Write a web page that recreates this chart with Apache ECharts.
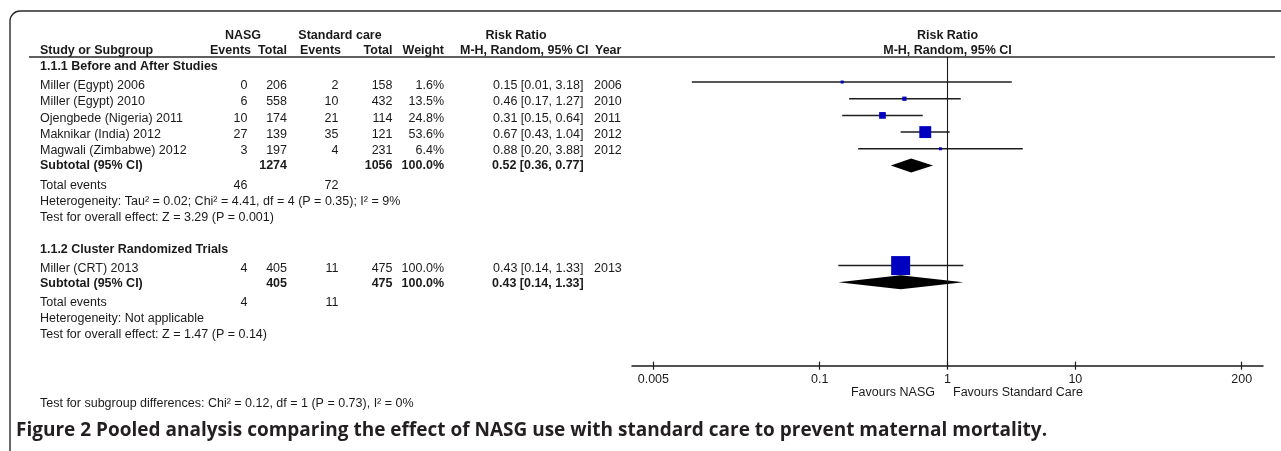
<!DOCTYPE html>
<html>
<head>
<meta charset="utf-8">
<script src="https://cdn.jsdelivr.net/npm/echarts@6/dist/echarts.min.js"></script>
<style>
html,body{margin:0;padding:0;background:#fff;}
#chart{width:1281px;height:451px;}
</style>
</head>
<body>
<div id="chart"></div>
<script>
// ---------- data ----------
const group1Title = '1.1.1 Before and After Studies';
const group1Studies = ['Miller (Egypt) 2006','Miller (Egypt) 2010','Ojengbede (Nigeria) 2011','Maknikar (India) 2012','Magwali (Zimbabwe) 2012'];
const group1NasgEvents = [0, 6, 10, 27, 3];
const group1NasgTotal = [206, 558, 174, 139, 197];
const group1StdEvents = [2, 10, 21, 35, 4];
const group1StdTotal = [158, 432, 114, 121, 231];
const group1Weight = [1.6, 13.5, 24.8, 53.6, 6.4];
const group1RR = [0.15, 0.46, 0.31, 0.67, 0.88];
const group1Lo = [0.01, 0.17, 0.15, 0.43, 0.20];
const group1Hi = [3.18, 1.27, 0.64, 1.04, 3.88];
const group1Year = [2006, 2010, 2011, 2012, 2012];
const group1Subtotal = {nasgTotal:1274, stdTotal:1056, weight:100.0, rr:0.52, lo:0.36, hi:0.77, nasgEvents:46, stdEvents:72};
const group1Het = 'Heterogeneity: Tau² = 0.02; Chi² = 4.41, df = 4 (P = 0.35); I² = 9%';
const group1Test = 'Test for overall effect: Z = 3.29 (P = 0.001)';

const group2Title = '1.1.2 Cluster Randomized Trials';
const group2Studies = ['Miller (CRT) 2013'];
const group2NasgEvents = [4];
const group2NasgTotal = [405];
const group2StdEvents = [11];
const group2StdTotal = [475];
const group2Weight = [100.0];
const group2RR = [0.43];
const group2Lo = [0.14];
const group2Hi = [1.33];
const group2Year = [2013];
const group2Subtotal = {nasgTotal:405, stdTotal:475, weight:100.0, rr:0.43, lo:0.14, hi:1.33, nasgEvents:4, stdEvents:11};
const group2Het = 'Heterogeneity: Not applicable';
const group2Test = 'Test for overall effect: Z = 1.47 (P = 0.14)';

const subgroupDiff = 'Test for subgroup differences: Chi² = 0.12, df = 1 (P = 0.73), I² = 0%';
const caption = 'Figure 2 Pooled analysis comparing the effect of NASG use with standard care to prevent maternal mortality.';

const tickValues = [0.005, 0.1, 1, 10, 200];
const tickLabels = ['0.005', '0.1', '1', '10', '200'];
const favoursLeft = 'Favours NASG';
const favoursRight = 'Favours Standard Care';

// ---------- layout (pixels / row slots) ----------
const FONT = '"Liberation Sans", Arial, sans-serif';
const FS = 12.5;
const col = {study:40, nasgEv:247.5, nasgTot:287, stdEv:338.5, stdTot:392.5, weight:444, rr:493, year:594};
const hdrCol = {nasgEv:251, nasgTot:287, stdEv:341, stdTot:392.5, weight:444, rr:460, year:595};
const Y = {hdr1:36, hdr2:50.5, g1:66.5, rows1:[85.8,102,118.2,134.4,150.6], sub1:165.5, tot1:185.5, het1:201.7, test1:217.9,
           g2:250, rows2:[268.8], sub2:284, tot2:302.6, het2:318.4, test2:334.4, diff:403.3, caption:431};
const plotRows1 = [0,1,2,3,4], plotSub1 = 5, plotRows2 = [11], plotSub2 = 12;

const L = Math.log10;
const fmt2 = v => v.toFixed(2);
const ciText = (r,lo,hi) => fmt2(r)+' ['+fmt2(lo)+', '+fmt2(hi)+']';
const pct = w => w.toFixed(1)+'%';

const texts = [];
function T(x, y, text, opt){
  opt = opt || {};
  texts.push({type:'text', x:x, y:y, z:10, silent:true, style:{
    text:String(text), fill:opt.fill||'#1a1a1a',
    font:(opt.bold?'bold ':'')+(opt.size||FS)+'px '+(opt.family||FONT),
    align:opt.align||'left', textAlign:opt.align||'left',
    verticalAlign:'middle', textVerticalAlign:'middle'}});
}
// header
T(243, Y.hdr1, 'NASG', {bold:true, align:'center'});
T(340, Y.hdr1, 'Standard care', {bold:true, align:'center'});
T(516, Y.hdr1, 'Risk Ratio', {bold:true, align:'center'});
T(947.5, Y.hdr1, 'Risk Ratio', {bold:true, align:'center'});
T(col.study, Y.hdr2, 'Study or Subgroup', {bold:true});
T(hdrCol.nasgEv, Y.hdr2, 'Events', {bold:true, align:'right'});
T(hdrCol.nasgTot, Y.hdr2, 'Total', {bold:true, align:'right'});
T(hdrCol.stdEv, Y.hdr2, 'Events', {bold:true, align:'right'});
T(hdrCol.stdTot, Y.hdr2, 'Total', {bold:true, align:'right'});
T(hdrCol.weight, Y.hdr2, 'Weight', {bold:true, align:'right'});
T(hdrCol.rr, Y.hdr2, 'M-H, Random, 95% CI', {bold:true});
T(hdrCol.year, Y.hdr2, 'Year', {bold:true});
T(947.5, Y.hdr2, 'M-H, Random, 95% CI', {bold:true, align:'center'});

function groupBlock(title, yTitle, studies, ne, nt, se, st, w, rr, lo, hi, yr, rowsY, sub, ySub, yTot, het, yHet, test, yTest){
  T(col.study, yTitle, title, {bold:true});
  studies.forEach((s,i)=>{
    const y = rowsY[i];
    T(col.study, y, s);
    T(col.nasgEv, y, ne[i], {align:'right'});
    T(col.nasgTot, y, nt[i], {align:'right'});
    T(col.stdEv, y, se[i], {align:'right'});
    T(col.stdTot, y, st[i], {align:'right'});
    T(col.weight, y, pct(w[i]), {align:'right'});
    T(col.rr, y, ciText(rr[i], lo[i], hi[i]));
    T(col.year, y, yr[i]);
  });
  T(col.study, ySub, 'Subtotal (95% CI)', {bold:true});
  T(col.nasgTot, ySub, sub.nasgTotal, {bold:true, align:'right'});
  T(col.stdTot, ySub, sub.stdTotal, {bold:true, align:'right'});
  T(col.weight, ySub, pct(sub.weight), {bold:true, align:'right'});
  T(col.rr-1, ySub, ciText(sub.rr, sub.lo, sub.hi), {bold:true});
  T(col.study, yTot, 'Total events');
  T(col.nasgEv, yTot, sub.nasgEvents, {align:'right'});
  T(col.stdEv, yTot, sub.stdEvents, {align:'right'});
  T(col.study, yHet, het);
  T(col.study, yTest, test);
}
groupBlock(group1Title, Y.g1, group1Studies, group1NasgEvents, group1NasgTotal, group1StdEvents, group1StdTotal, group1Weight, group1RR, group1Lo, group1Hi, group1Year, Y.rows1, group1Subtotal, Y.sub1, Y.tot1, group1Het, Y.het1, group1Test, Y.test1);
groupBlock(group2Title, Y.g2, group2Studies, group2NasgEvents, group2NasgTotal, group2StdEvents, group2StdTotal, group2Weight, group2RR, group2Lo, group2Hi, group2Year, Y.rows2, group2Subtotal, Y.sub2, Y.tot2, group2Het, Y.het2, group2Test, Y.test2);
T(col.study, Y.diff, subgroupDiff);
T(935, 392.7, favoursLeft, {align:'right'});
T(953, 392.7, favoursRight);
T(16, Y.caption, caption, {bold:true, size:19, family:'"Open Sans", "Noto Sans", sans-serif', fill:'#231f20'});

// ---------- series data ----------
const ciData = [];
group1RR.forEach((r,i)=> ciData.push([L(group1Lo[i]), L(group1Hi[i]), plotRows1[i], L(r), group1Weight[i]]));
group2RR.forEach((r,i)=> ciData.push([L(group2Lo[i]), L(group2Hi[i]), plotRows2[i], L(r), group2Weight[i]]));
const diamondData = [
  [L(group1Subtotal.lo), L(group1Subtotal.hi), plotSub1, L(group1Subtotal.rr)],
  [L(group2Subtotal.lo), L(group2Subtotal.hi), plotSub2, L(group2Subtotal.rr)]
];
const tickLogs = tickValues.map(L);
const labelFor = v => { for (let i=0;i<tickLogs.length;i++) if (Math.abs(tickLogs[i]-v)<1e-6) return tickLabels[i]; return ''; };
const boxSize = w => Math.max(3, 19*Math.pow(w/100, 0.75));

const chart = echarts.init(document.getElementById('chart'), null, {renderer:'canvas'});
const axisCommon = {type:'value', min:-2.468, max:2.468, position:'bottom', splitLine:{show:false}, gridIndex:0};
chart.setOption({
  animation:false,
  backgroundColor:'#ffffff',
  grid:{left:632, right:18, top:57, bottom:85.3, containLabel:false},
  xAxis:[
    Object.assign({}, axisCommon, {
      axisLine:{show:true, onZero:false, lineStyle:{color:'#1a1a1a', width:1.5}},
      axisTick:{show:true, inside:true, length:4, customValues:tickLogs, lineStyle:{color:'#1a1a1a', width:1.2}},
      axisLabel:{show:true, customValues:tickLogs, formatter:labelFor, margin:7, fontSize:FS, fontFamily:FONT, color:'#1a1a1a'}
    }),
    Object.assign({}, axisCommon, {
      axisLine:{show:false, onZero:false},
      axisTick:{show:true, inside:false, length:4, customValues:tickLogs, lineStyle:{color:'#1a1a1a', width:1.2}},
      axisLabel:{show:false}
    })
  ],
  yAxis:{type:'value', min:-1.5, max:17, inverse:true, show:false},
  graphic:[
    {type:'rect', shape:{x:10, y:11, width:1300, height:480, r:10}, style:{fill:null, stroke:'#2a2a2a', lineWidth:1.4}, silent:true, z:1},
    {type:'line', shape:{x1:29, y1:57, x2:1275, y2:57}, style:{stroke:'#2a2a2a', lineWidth:1.6}, silent:true, z:2}
  ].concat(texts),
  series:[
    {
      type:'custom', name:'studies', xAxisIndex:0, yAxisIndex:0,
      encode:{x:[0,1,3], y:2},
      data:ciData, z:3,
      renderItem:function(params, api){
        const row = api.value(2);
        const a = api.coord([api.value(0), row]);
        const b = api.coord([api.value(1), row]);
        const c = api.coord([api.value(3), row]);
        const s = boxSize(api.value(4));
        return {type:'group', children:[
          {type:'line', shape:{x1:a[0], y1:a[1], x2:b[0], y2:b[1]}, style:{stroke:'#1e1e1e', lineWidth:1.5}},
          {type:'rect', shape:{x:c[0]-s/2, y:c[1]-s/2, width:s, height:s}, style:{fill:'#0000c0'}}
        ]};
      },
      markLine:{silent:true, symbol:'none', label:{show:false}, animation:false,
        lineStyle:{color:'#1a1a1a', width:1.1, type:'solid'}, data:[{xAxis:0}]}
    },
    {
      type:'custom', name:'subtotals', xAxisIndex:0, yAxisIndex:0,
      encode:{x:[0,1,3], y:2},
      data:diamondData, z:4,
      renderItem:function(params, api){
        const row = api.value(2);
        const a = api.coord([api.value(0), row]);
        const b = api.coord([api.value(1), row]);
        const c = api.coord([api.value(3), row]);
        return {type:'polygon', shape:{points:[[a[0],a[1]],[c[0],c[1]-7],[b[0],b[1]],[c[0],c[1]+7]]}, style:{fill:'#000'}};
      }
    }
  ]
});
</script>
</body>
</html>
